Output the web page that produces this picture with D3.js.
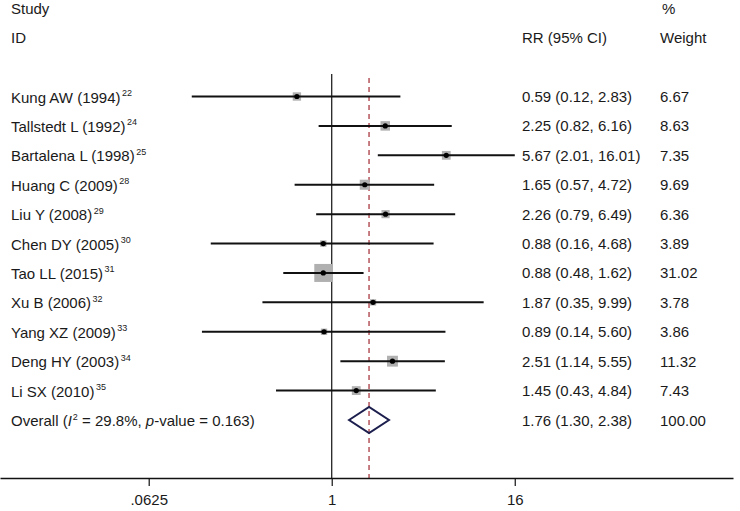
<!DOCTYPE html>
<html><head><meta charset="utf-8">
<script src="https://cdn.jsdelivr.net/npm/d3@7"></script>
<style>body{margin:0;background:#fff}svg{display:block}text{font-family:"Liberation Sans",Arial,sans-serif;fill:#1a1a1a}</style>
</head><body><svg id="c" width="740" height="511"></svg>
<script>
const studies = ["Kung AW (1994)","Tallstedt L (1992)","Bartalena L (1998)","Huang C (2009)","Liu Y (2008)","Chen DY (2005)","Tao LL (2015)","Xu B (2006)","Yang XZ (2009)","Deng HY (2003)","Li SX (2010)"];
const refs = ["22","24","25","28","29","30","31","32","33","34","35"];
const rr = [0.59,2.25,5.67,1.65,2.26,0.88,0.88,1.87,0.89,2.51,1.45];
const lower = [0.12,0.82,2.01,0.57,0.79,0.16,0.48,0.35,0.14,1.14,0.43];
const upper = [2.83,6.16,16.01,4.72,6.49,4.68,1.62,9.99,5.60,5.55,4.84];
const weights = [6.67,8.63,7.35,9.69,6.36,3.89,31.02,3.78,3.86,11.32,7.43];
const overall = {rr:1.76, lower:1.30, upper:2.38, weight:100.00};
const tickValues = [0.0625,1,16];
const tickLabels = [".0625","1","16"];

const svg = d3.select("#c");
const x = d3.scaleLog().base(2).domain([Math.pow(2,-7.25), Math.pow(2,8.77)]).range([0,733]);
const rowY = d3.scaleLinear().domain([0,11]).range([96.5,420]);
const fs = 15, fsn = 15;
const fmt = d3.format(".2f");
const colRR = 522, colW = 660, colL = 11;

svg.append("text").attr("x",colL).attr("y",14).attr("font-size",fs).text("Study");
svg.append("text").attr("x",colL).attr("y",43).attr("font-size",fs).text("ID");
svg.append("text").attr("x",colRR).attr("y",43).attr("font-size",fs).text("RR (95% CI)");
svg.append("text").attr("x",colW+2).attr("y",14).attr("font-size",fs).text("%");
svg.append("text").attr("x",colW).attr("y",43).attr("font-size",fs).text("Weight");

svg.append("line").attr("x1",x(1)).attr("x2",x(1)).attr("y1",74).attr("y2",478).attr("stroke","#111").attr("stroke-width",1.2);
svg.append("line").attr("x1",x(overall.rr)).attr("x2",x(overall.rr)).attr("y1",78).attr("y2",478)
  .attr("stroke","#b5545c").attr("stroke-width",1.5).attr("stroke-dasharray","5,4");

const g = svg.append("g");
studies.forEach((s,i)=>{
  const y = rowY(i);
  const side = 18*Math.sqrt(weights[i]/31.02);
  g.append("rect").attr("x",x(rr[i])-side/2).attr("y",y-side/2).attr("width",side).attr("height",side).attr("fill","#b0b0b0");
  g.append("line").attr("x1",x(lower[i])).attr("x2",x(upper[i])).attr("y1",y).attr("y2",y).attr("stroke","#111").attr("stroke-width",2);
  g.append("circle").attr("cx",x(rr[i])).attr("cy",y).attr("r",2.6).attr("fill","#000");
  const t = g.append("text").attr("x",colL).attr("y",y+6).attr("font-size",fs);
  t.append("tspan").text(s);
  t.append("tspan").attr("font-size",9).attr("dy",-6.5).attr("dx",1.5).text(refs[i]);
  g.append("text").attr("x",colRR).attr("y",y+5.5).attr("font-size",fsn).text(`${fmt(rr[i])} (${fmt(lower[i])}, ${fmt(upper[i])})`);
  g.append("text").attr("x",colW).attr("y",y+5.5).attr("font-size",fsn).text(fmt(weights[i]));
});

const oy = rowY(11);
const t = g.append("text").attr("x",colL).attr("y",oy+6).attr("font-size",fs);
t.append("tspan").text("Overall (");
t.append("tspan").attr("font-style","italic").text("I");
t.append("tspan").attr("font-size",9).attr("dy",-6.5).attr("dx",1).text("2");
t.append("tspan").attr("dy",6.5).text(" = 29.8%, ");
t.append("tspan").attr("font-style","italic").text("p");
t.append("tspan").text("-value = 0.163)");
g.append("path").attr("d",`M${x(overall.lower)},${oy}L${x(overall.rr)},${oy-13}L${x(overall.upper)},${oy}L${x(overall.rr)},${oy+13}Z`)
  .attr("fill","none").attr("stroke","#1c1f4d").attr("stroke-width",2);
g.append("text").attr("x",colRR).attr("y",oy+5.5).attr("font-size",fsn).text(`${fmt(overall.rr)} (${fmt(overall.lower)}, ${fmt(overall.upper)})`);
g.append("text").attr("x",colW).attr("y",oy+5.5).attr("font-size",fsn).text(fmt(overall.weight));

const ax = svg.append("g").attr("transform","translate(0,478)")
  .call(d3.axisBottom(x).tickValues(tickValues).tickFormat((d,i)=>tickLabels[i]).tickSize(8).tickSizeOuter(0).tickPadding(8));
ax.select(".domain").attr("stroke","#111").attr("stroke-width",1.5);
ax.selectAll(".tick line").attr("stroke","#111").attr("stroke-width",1.2);
ax.selectAll(".tick text").attr("font-size",fs).attr("font-family","Liberation Sans, Arial, sans-serif").attr("fill","#1a1a1a");
</script></body></html>
